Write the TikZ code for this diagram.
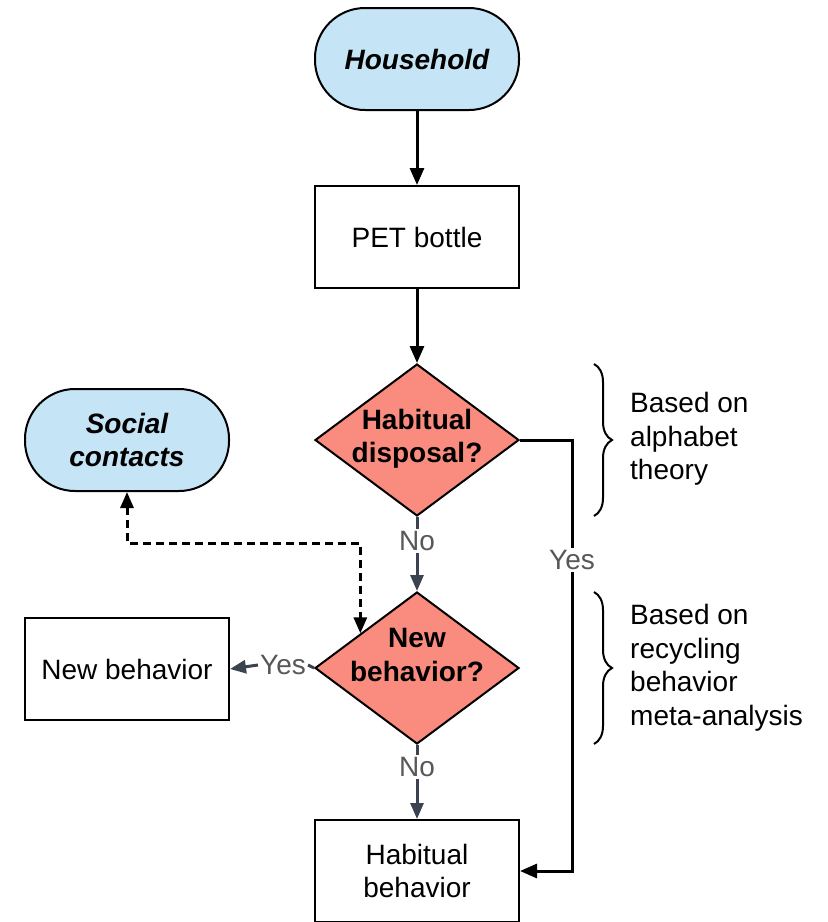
\documentclass[tikz,border=0pt]{standalone}
\usepackage{fontspec}
\setmainfont{Liberation Sans}
\usetikzlibrary{arrows.meta,shapes.geometric,decorations.pathreplacing,calc}
\definecolor{termblue}{RGB}{197,228,246}
\definecolor{decred}{RGB}{249,140,126}
\definecolor{slate}{RGB}{59,66,80}
\definecolor{lblgray}{RGB}{88,88,88}
\begin{document}
\begin{tikzpicture}[x=1pt,y=-1pt,
  every node/.style={font=\fontsize{28}{33.5}\selectfont},
  term/.style={draw, line width=2pt, fill=termblue, rounded corners=50pt, minimum width=204pt, minimum height=102pt, align=center, inner sep=0pt},
  procbox/.style={draw, line width=2pt, fill=white, minimum width=204pt, minimum height=102pt, align=center, inner sep=0pt},
  decision/.style={draw, line width=2pt, fill=decred, diamond, minimum width=204pt, minimum height=152pt, inner sep=0pt},
  dtext/.style={align=center, inner sep=0pt},
  lbl/.style={text=lblgray, fill=white, inner sep=2pt},
  note/.style={align=left, inner sep=0pt, anchor=west},
  arr/.style={line width=3pt, -{Triangle[length=17pt,width=14pt]}},
  plainline/.style={line width=3pt},
  garr/.style={line width=3pt, draw=slate, -{Triangle[length=16pt,width=13pt]}},
  gline/.style={line width=3pt, draw=slate},
  dasharr/.style={line width=3pt, dash pattern=on 8pt off 5pt, {Triangle[length=16pt,width=13pt]}-{Triangle[length=16pt,width=13pt]}},
  bracestyle/.style={line width=2pt, decorate, decoration={brace, amplitude=18pt, aspect=0.5}}
]
\useasboundingbox (0,0) rectangle (828,922);
\fill[white] (0,0) rectangle (828,922);

\node[term] (house) at (417,59) {\bfseries\itshape Household};
\node[procbox] (pet) at (417,237) {PET bottle};
\node[decision] (d1) at (417,440) {};
\node[dtext] (d1t) at (417,439) {\bfseries Habitual\\\bfseries disposal?};
\node[term] (social) at (127,440) {\bfseries\itshape Social\\\bfseries\itshape contacts};
\node[decision] (d2) at (417,668) {};
\node[dtext] (d2t) at (417,655) {\bfseries New\\\bfseries behavior?};
\node[procbox] (newb) at (127,669) {New behavior};
\node[procbox] (habb) at (417,871) {Habitual\\behavior};

\node[lbl] (no1) at (417,541) {No};
\node[lbl] (yes1) at (572,560) {Yes};
\node[lbl] (yes2) at (283,665) {Yes};
\node[lbl] (no2) at (417,767) {No};

\draw[arr] (house) -- (pet);
\draw[arr] (pet) -- (d1);

\draw[gline] (d1.south) -- (no1.north);
\draw[garr] (no1.south) -- (d2.north);
\draw[gline] (d2.south) -- (no2.north);
\draw[garr] (no2.south) -- (habb.north);

\draw[gline] (d2.west) -- (yes2.east);
\draw[garr] (yes2.west) -- (newb.east);

\draw[plainline] (d1.east) -| (yes1.north);
\draw[arr] (yes1.south) |- (habb.east);

\coordinate (dtarget) at ($(d2.west)!0.45!(d2.north)$);
\draw[dasharr] (social.south) -- ++(0,51) -| (dtarget);

\draw[bracestyle] (594,364) -- (594,516);
\draw[bracestyle] (594,592) -- (594,744);

\node[note] (n1) at (630,439) {Based on\\alphabet\\theory};
\node[note] (n2) at (630,668) {Based on\\recycling\\behavior\\meta-analysis};
\end{tikzpicture}
\end{document}
